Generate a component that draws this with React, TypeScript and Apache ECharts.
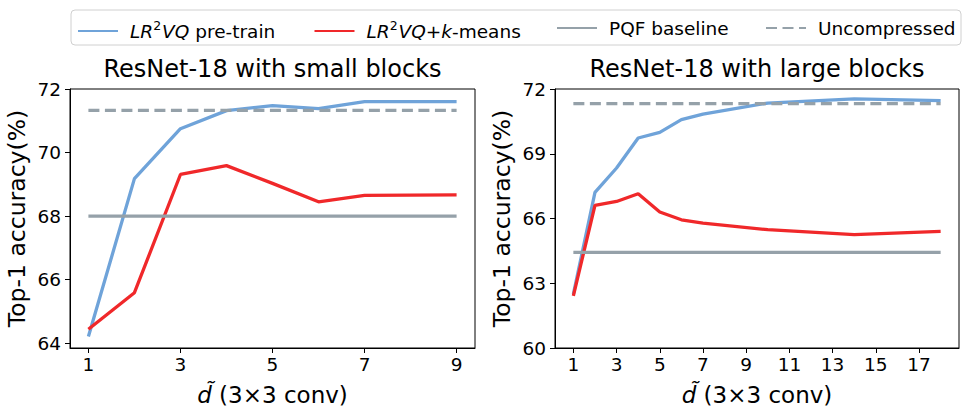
import React, { useEffect, useRef } from "react";
import * as echarts from "echarts";

const FONT = "DejaVu Sans";

// ---- data: left panel (small blocks) ----
const leftX = [1, 2, 3, 4, 5, 6, 7, 8, 9];
const leftPretrain = [64.21, 69.18, 70.75, 71.32, 71.48, 71.38, 71.6, 71.6, 71.6];
const leftKmeans = [64.44, 65.59, 69.31, 69.59, 69.03, 68.45, 68.65, 68.66, 68.67];
const leftPQF = 68.0;
const leftUncompressed = 71.33;

// ---- data: right panel (large blocks) ----
const rightX = [1, 2, 3, 4, 5, 6, 7, 10, 14, 18];
const rightPretrain = [62.5, 67.21, 68.34, 69.73, 69.99, 70.58, 70.84, 71.35, 71.54, 71.46];
const rightKmeans = [62.42, 66.61, 66.79, 67.15, 66.3, 65.94, 65.79, 65.48, 65.25, 65.4];
const rightPQF = 64.43;
const rightUncompressed = 71.32;

// ---- ticks ----
const leftXTicks = [1, 3, 5, 7, 9];
const leftYTicks = [64, 66, 68, 70, 72];
const rightXTicks = [1, 3, 5, 7, 9, 11, 13, 15, 17];
const rightYTicks = [60, 63, 66, 69, 72];

const titles = ["ResNet-18 with small blocks", "ResNet-18 with large blocks"];
const seriesNames = ["LR2VQ pre-train", "LR2VQ+k-means", "PQF baseline", "Uncompressed"];
const yName = "Top-1 accuracy(%)";

const BLUE = "#6fa3d9";
const RED = "#f0282a";
const GRAY = "#95a1a9";

const pairs = (xs: number[], ys: number[]) => xs.map((x, i) => [x, ys[i]]);
const flat = (xs: number[], v: number) => [[xs[0], v], [xs[xs.length - 1], v]];

function lineSeries(name: string, data: number[][], color: string, idx: number, dashed = false) {
  return {
    name,
    type: "line",
    xAxisIndex: idx,
    yAxisIndex: idx,
    data,
    showSymbol: false,
    symbol: "none",
    lineStyle: { color, width: 3.3, type: dashed ? [11, 5.5] : "solid", cap: "butt" },
    itemStyle: { color },
    emphasis: { disabled: true },
  };
}

const tickStyle = { color: "#000", width: 1 };

function xAxis(idx: number, min: number, max: number, ticks: number[]) {
  return {
    type: "value",
    gridIndex: idx,
    min,
    max,
    axisLine: { show: true, onZero: false, lineStyle: tickStyle },
    axisTick: { show: true, length: 5, customValues: ticks, lineStyle: tickStyle },
    axisLabel: {
      customValues: ticks,
      fontSize: 18.5,
      fontFamily: FONT,
      color: "#000",
      margin: 7,
      formatter: (v: number) => String(v),
    },
    splitLine: { show: false },
    name: "{i|d\u0303}{n| (3\u00d73 conv)}",
    nameLocation: "middle",
    nameGap: 35,
    nameTextStyle: {
      fontFamily: FONT,
      fontSize: 23,
      color: "#000",
      rich: {
        i: { fontStyle: "italic", fontFamily: FONT, fontSize: 23, color: "#000" },
        n: { fontFamily: FONT, fontSize: 23, color: "#000" },
      },
    },
  };
}

function yAxis(idx: number, min: number, max: number, ticks: number[]) {
  return {
    type: "value",
    gridIndex: idx,
    min,
    max,
    axisLine: { show: true, onZero: false, lineStyle: tickStyle },
    axisTick: { show: true, length: 5, customValues: ticks, lineStyle: tickStyle },
    axisLabel: {
      customValues: ticks,
      fontSize: 18.5,
      fontFamily: FONT,
      color: "#000",
      margin: 9,
      formatter: (v: number) => String(v),
    },
    splitLine: { show: false },
    name: yName,
    nameLocation: "middle",
    nameGap: 41,
    nameTextStyle: { fontFamily: FONT, fontSize: 23.5, color: "#000" },
  };
}

const legendIconX = [77, 313.5, 556, 765];

export default function App() {
  const ref = useRef<HTMLDivElement>(null);
  useEffect(() => {
    if (!ref.current) return;
    const chart = echarts.init(ref.current, null, { renderer: "svg" });
    const FS = 18.5;
    const legendText = {
      fontFamily: FONT,
      fontSize: FS,
      color: "#000",
      padding: [0, 0, 0, 7],
      rich: {
        i: { fontStyle: "italic", fontFamily: FONT, fontSize: FS, color: "#000" },
        n: { fontFamily: FONT, fontSize: FS, color: "#000" },
        s: { fontFamily: FONT, fontSize: 12.5, color: "#000", padding: [0, 1, 12, 0] },
      },
    };
    const legendFormatter = (name: string) => {
      if (name === seriesNames[0]) return "{i|LR}{s|2}{i|VQ}{n| pre-train}";
      if (name === seriesNames[1]) return "{i|LR}{s|2}{i|VQ}{n|+}{i|k}{n|-means}";
      return "{n|" + name + "}";
    };
    const option: any = {
      animation: false,
      backgroundColor: "#fff",
      title: titles.map((t, i) => ({
        text: t,
        left: i === 0 ? 272.5 : 757,
        top: 57,
        padding: 0,
        textAlign: "center",
        textStyle: { fontFamily: FONT, fontSize: 24, fontWeight: "normal", color: "#000" },
      })),
      graphic: [
        {
          type: "rect",
          z: 0,
          shape: { x: 71, y: 10, width: 890, height: 35, r: 4 },
          style: { fill: "#fff", stroke: "#d0d0d0", lineWidth: 1 },
        },
      ],
      legend: seriesNames.map((n, i) => ({
        data: [n],
        left: legendIconX[i],
        top: 18.5,
        padding: 0,
        itemGap: 0,
        itemWidth: 40,
        itemHeight: 18,
        z: 10,
        itemStyle: { opacity: 0, borderWidth: 0 },
        formatter: legendFormatter,
        textStyle: legendText,
      })),
      grid: [
        { left: 70, top: 89, width: 405, height: 259, show: true, borderColor: "#000", borderWidth: 1, backgroundColor: "transparent" },
        { left: 555, top: 89, width: 404, height: 259, show: true, borderColor: "#000", borderWidth: 1, backgroundColor: "transparent" },
      ],
      xAxis: [xAxis(0, 0.6, 9.4, leftXTicks), xAxis(1, 0.15, 18.85, rightXTicks)],
      yAxis: [yAxis(0, 63.85, 72, leftYTicks), yAxis(1, 60, 72, rightYTicks)],
      series: [
        lineSeries(seriesNames[0], pairs(leftX, leftPretrain), BLUE, 0),
        lineSeries(seriesNames[1], pairs(leftX, leftKmeans), RED, 0),
        lineSeries(seriesNames[2], flat(leftX, leftPQF), GRAY, 0),
        lineSeries(seriesNames[3], flat(leftX, leftUncompressed), GRAY, 0, true),
        lineSeries(seriesNames[0], pairs(rightX, rightPretrain), BLUE, 1),
        lineSeries(seriesNames[1], pairs(rightX, rightKmeans), RED, 1),
        lineSeries(seriesNames[2], flat(rightX, rightPQF), GRAY, 1),
        lineSeries(seriesNames[3], flat(rightX, rightUncompressed), GRAY, 1, true),
      ],
    };
    chart.setOption(option);
    return () => chart.dispose();
  }, []);
  return (
    <div
      ref={ref}
      style={{ position: "absolute", left: 0, top: 0, width: 969, height: 420, background: "#fff" }}
    />
  );
}
